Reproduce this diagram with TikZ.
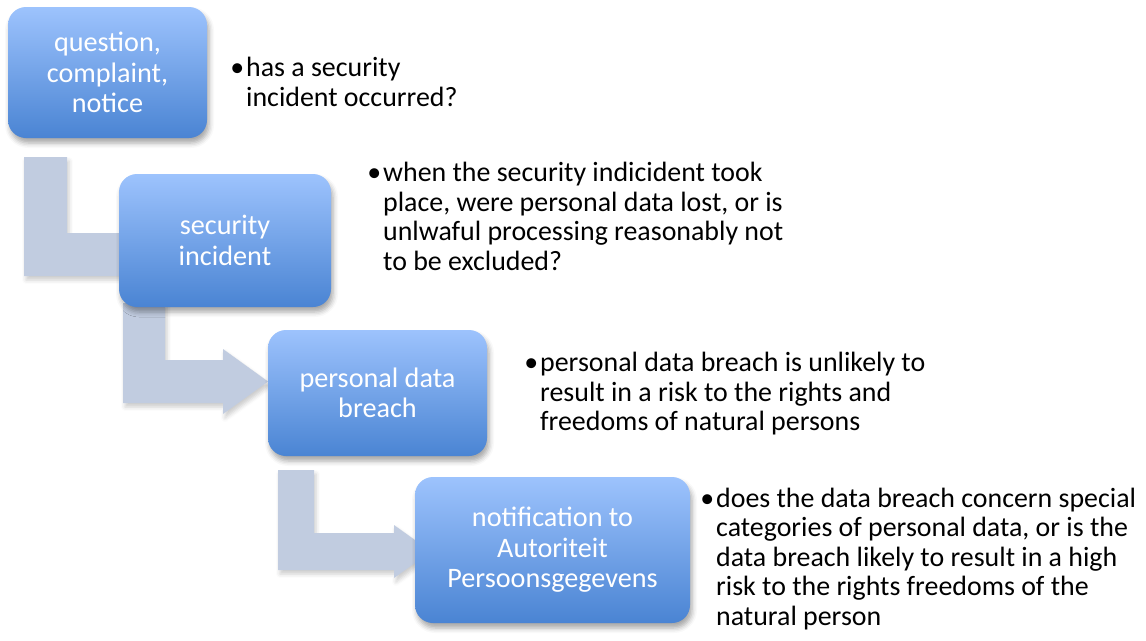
\documentclass[tikz,border=0pt]{standalone}
\usepackage{fontspec}
\setmainfont{Carlito}
\usetikzlibrary{shadows.blur}
\definecolor{boxtop}{HTML}{9DC3FD}
\definecolor{boxbot}{HTML}{4A84D3}
\definecolor{arrowc}{HTML}{C1CCE0}
\tikzset{
  stepbox/.style={rectangle, rounded corners=18pt, top color=boxtop, bottom color=boxbot,
    draw=none, text=white, align=center, inner sep=0pt,
    font=\fontsize{28.2}{30.5}\selectfont,
    blur shadow={shadow xshift=2pt, shadow yshift=-5pt, shadow blur radius=5pt, shadow opacity=35}},
  bentarrow/.style={fill=arrowc, draw=none,
    blur shadow={shadow xshift=2pt, shadow yshift=-4pt, shadow blur radius=4pt, shadow opacity=20}},
  note/.style={anchor=base west, align=left, inner sep=0pt, text=black,
    font=\fontsize{27.9}{29.5}\selectfont},
}
\newcommand{\bul}{\llap{\textbullet\hspace{2pt}}}
\begin{document}
\begin{tikzpicture}[x=1pt,y=-1pt]
\useasboundingbox (0,0) rectangle (1146,640);
% bent arrows
\path[bentarrow] (24,157) -- (67,157) -- (67,233) -- (140,233) -- (140,276) -- (24,276) -- cycle;
\path[bentarrow] (123,303) -- (165,303) -- (165,360) -- (223,360) -- (223,349) -- (268,381.5)
  -- (223,414) -- (223,403) -- (123,403) -- cycle;
\path[bentarrow] (278,470) -- (314,470) -- (314,533) -- (394,533) -- (394,525) -- (431,551.5)
  -- (394,578) -- (394,570) -- (278,570) -- cycle;
% boxes
\node[stepbox, minimum width=199pt, minimum height=131pt] (b1) at (107.5,72.5) {question,\\complaint,\\notice};
\node[stepbox, minimum width=212pt, minimum height=133pt] (b2) at (225,240.5) {security\\incident};
\node[stepbox, minimum width=219pt, minimum height=126pt] (b3) at (377.5,393) {personal data\\breach};
\node[stepbox, minimum width=275pt, minimum height=146pt] (b4) at (552.5,550) {notification to\\Autoriteit\\Persoonsgegevens};
% notes (anchored at the baseline of the last line)
\node[note] (t1) at (246,106) {\bul has a security\\incident occurred?};
\node[note] (t2) at (383,270) {\bul when the security indicident took\\place, were personal data lost, or is\\unlwaful processing reasonably not\\to be excluded?};
\node[note] (t3) at (540,430.5) {\bul personal data breach is unlikely to\\result in a risk to the rights and\\freedoms of natural persons};
\node[note] (t4) at (716,625) {\bul does the data breach concern special\\categories of personal data, or is the\\data breach likely to result in a high\\risk to the rights freedoms of the\\natural person};
\end{tikzpicture}
\end{document}
